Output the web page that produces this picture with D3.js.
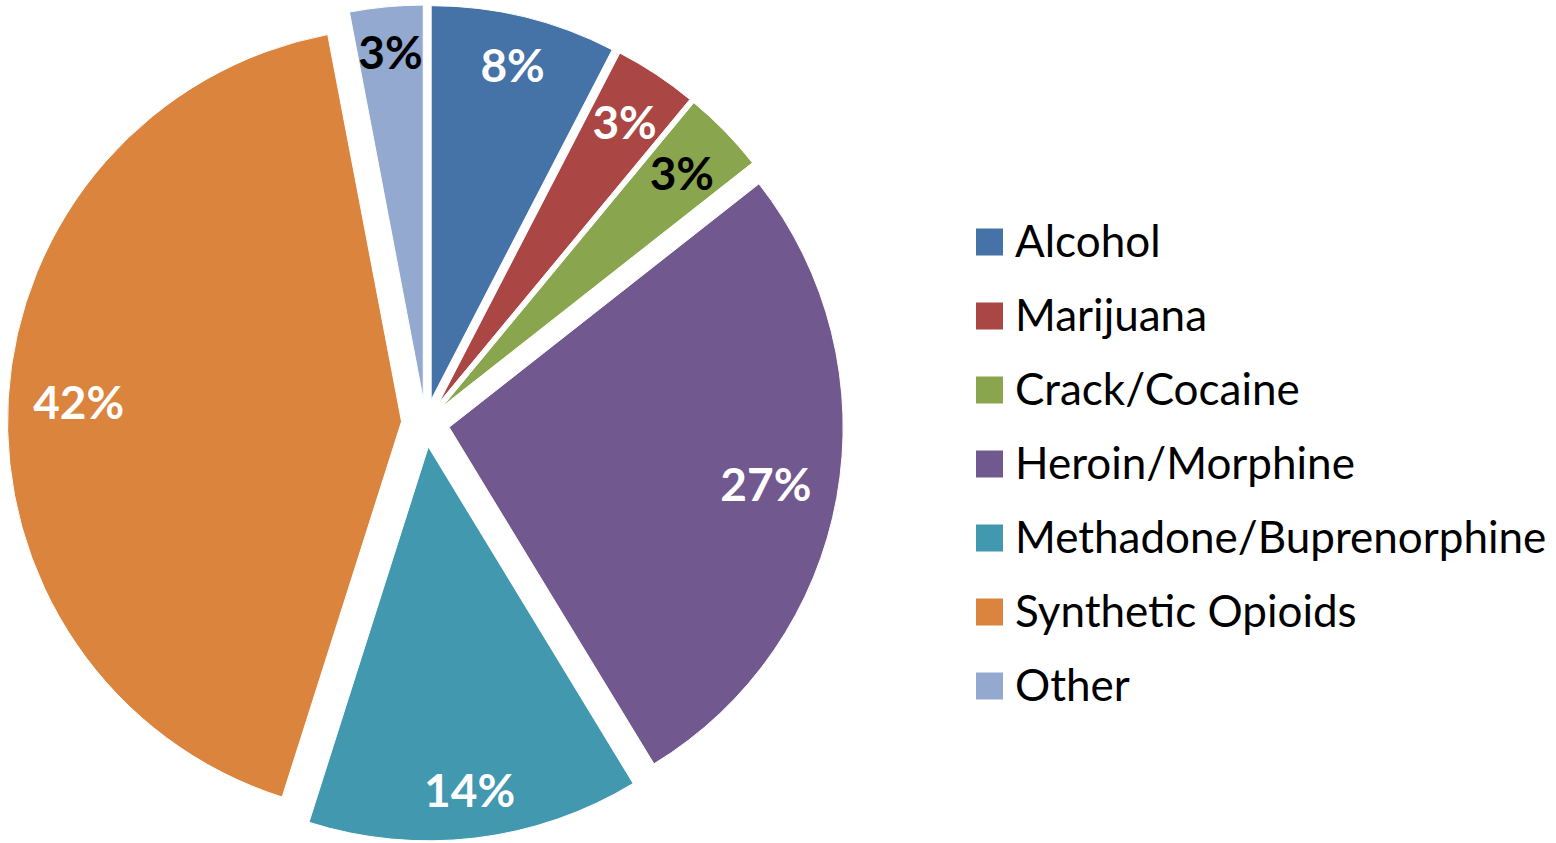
<!DOCTYPE html>
<html>
<head>
<meta charset="utf-8">
<script src="https://cdn.jsdelivr.net/npm/d3@7"></script>
<style>
  html, body { margin: 0; padding: 0; background: #fff; }
  svg { display: block; }
</style>
</head>
<body>
<svg id="chart" width="1556" height="843"></svg>
<script>
// ---- data ----
const categories = ["Alcohol", "Marijuana", "Crack/Cocaine", "Heroin/Morphine", "Methadone/Buprenorphine", "Synthetic Opioids", "Other"];
const values = [7.6, 3.4, 3.4, 26.9, 13.6, 42.1, 3.0];
const labels = ["8%", "3%", "3%", "27%", "14%", "42%", "3%"];

// ---- styles ----
const colors = ["#4572A7", "#AA4643", "#89A54E", "#71588F", "#4198AF", "#DB843D", "#93A9CF"];
const labelColors = ["#fff", "#fff", "#000", "#fff", "#fff", "#fff", "#000"];

const svg = d3.select("#chart");
const W = 1556, H = 843;
const cx = 425.5, cy = 423, R = 394, explode = 24;
const fontFamily = "Lato, 'Open Sans', sans-serif";

const color = d3.scaleOrdinal().domain(categories).range(colors);

const pie = d3.pie().sort(null).value(d => d.value);
const rows = categories.map((c, i) => ({ cat: c, value: values[i], label: labels[i], lc: labelColors[i] }));
const arcs = pie(rows);
const arc = d3.arc().innerRadius(0).outerRadius(R);

const g = svg.append("g").attr("transform", `translate(${cx},${cy})`);

const slices = g.selectAll("g.slice").data(arcs).join("g")
  .attr("class", "slice")
  .attr("transform", d => {
    const a = (d.startAngle + d.endAngle) / 2;
    return `translate(${Math.sin(a) * explode},${-Math.cos(a) * explode})`;
  });

slices.append("path")
  .attr("d", arc)
  .attr("fill", d => color(d.data.cat))
  .attr("stroke", "#fff")
  .attr("stroke-width", 1);

const labelFont = 46;
slices.append("text")
  .text(d => d.data.label)
  .attr("font-family", fontFamily)
  .attr("font-weight", "bold")
  .attr("font-size", labelFont)
  .attr("fill", d => d.data.lc)
  .attr("text-anchor", "middle")
  .attr("dy", "0.36em")
  .each(function(d) {
    const a = (d.startAngle + d.endAngle) / 2;
    const w = this.getComputedTextLength();
    const h = labelFont * 0.8;
    const ext = Math.abs(w / 2 * Math.sin(a)) + Math.abs(h / 2 * Math.cos(a));
    const dist = R - 24 - ext;
    d3.select(this).attr("x", Math.sin(a) * dist).attr("y", -Math.cos(a) * dist);
  });

// ---- legend ----
const legendY = d3.scalePoint().domain(categories).range([242, 686]);
const legend = svg.append("g");
const items = legend.selectAll("g").data(categories).join("g")
  .attr("transform", d => `translate(976,${legendY(d)})`);
items.append("rect")
  .attr("x", 0).attr("y", -13.5).attr("width", 27).attr("height", 27)
  .attr("fill", d => color(d));
items.append("text")
  .attr("x", 39).attr("y", 0).attr("dy", "0.35em")
  .attr("font-family", fontFamily)
  .attr("font-size", 44)
  .attr("fill", "#000")
  .text(d => d);
</script>
</body>
</html>
